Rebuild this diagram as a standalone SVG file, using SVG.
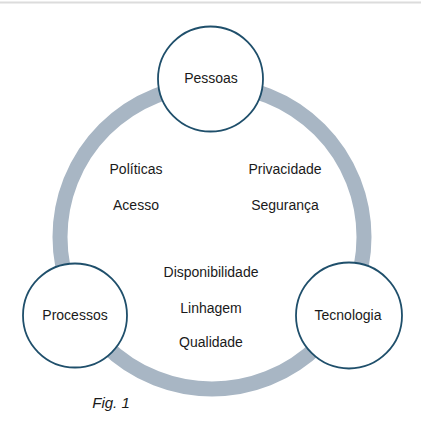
<svg xmlns="http://www.w3.org/2000/svg" width="421" height="421" viewBox="0 0 421 421">
<style>
.t{font-family:"Liberation Sans","Open Sans",Arial,sans-serif;font-size:14px;fill:#1a1a1a;text-anchor:middle}
.node{fill:#fff;stroke:#1f4f6b;stroke-width:1.8}
.ring{fill:none;stroke:#a8b6c4;stroke-width:15}
</style>
<rect x="0" y="0" width="421" height="421" fill="#fff"/>
<line x1="0" y1="2.5" x2="421" y2="2.5" stroke="#dcdcdc" stroke-width="2"/>
<g id="connectors">
<circle class="ring" cx="212" cy="237" r="152"/>
</g>
<g id="pessoas">
<circle class="node" cx="210.5" cy="79" r="52.5"/>
<text class="t" x="211" y="83">Pessoas</text>
</g>
<g id="processos">
<circle class="node" cx="75" cy="315.5" r="52"/>
<text class="t" x="75" y="320">Processos</text>
</g>
<g id="tecnologia">
<circle class="node" cx="349" cy="315.5" r="53"/>
<text class="t" x="348" y="320">Tecnologia</text>
</g>
<g id="labels">
<text class="t" x="136" y="174">Políticas</text>
<text class="t" x="136" y="210">Acesso</text>
<text class="t" x="285" y="174">Privacidade</text>
<text class="t" x="285" y="210">Segurança</text>
<text class="t" x="211" y="277">Disponibilidade</text>
<text class="t" x="211" y="313">Linhagem</text>
<text class="t" x="211" y="347">Qualidade</text>
<text class="t" x="111" y="408" style="font-style:italic;font-size:15px">Fig. 1</text>
</g>
</svg>
